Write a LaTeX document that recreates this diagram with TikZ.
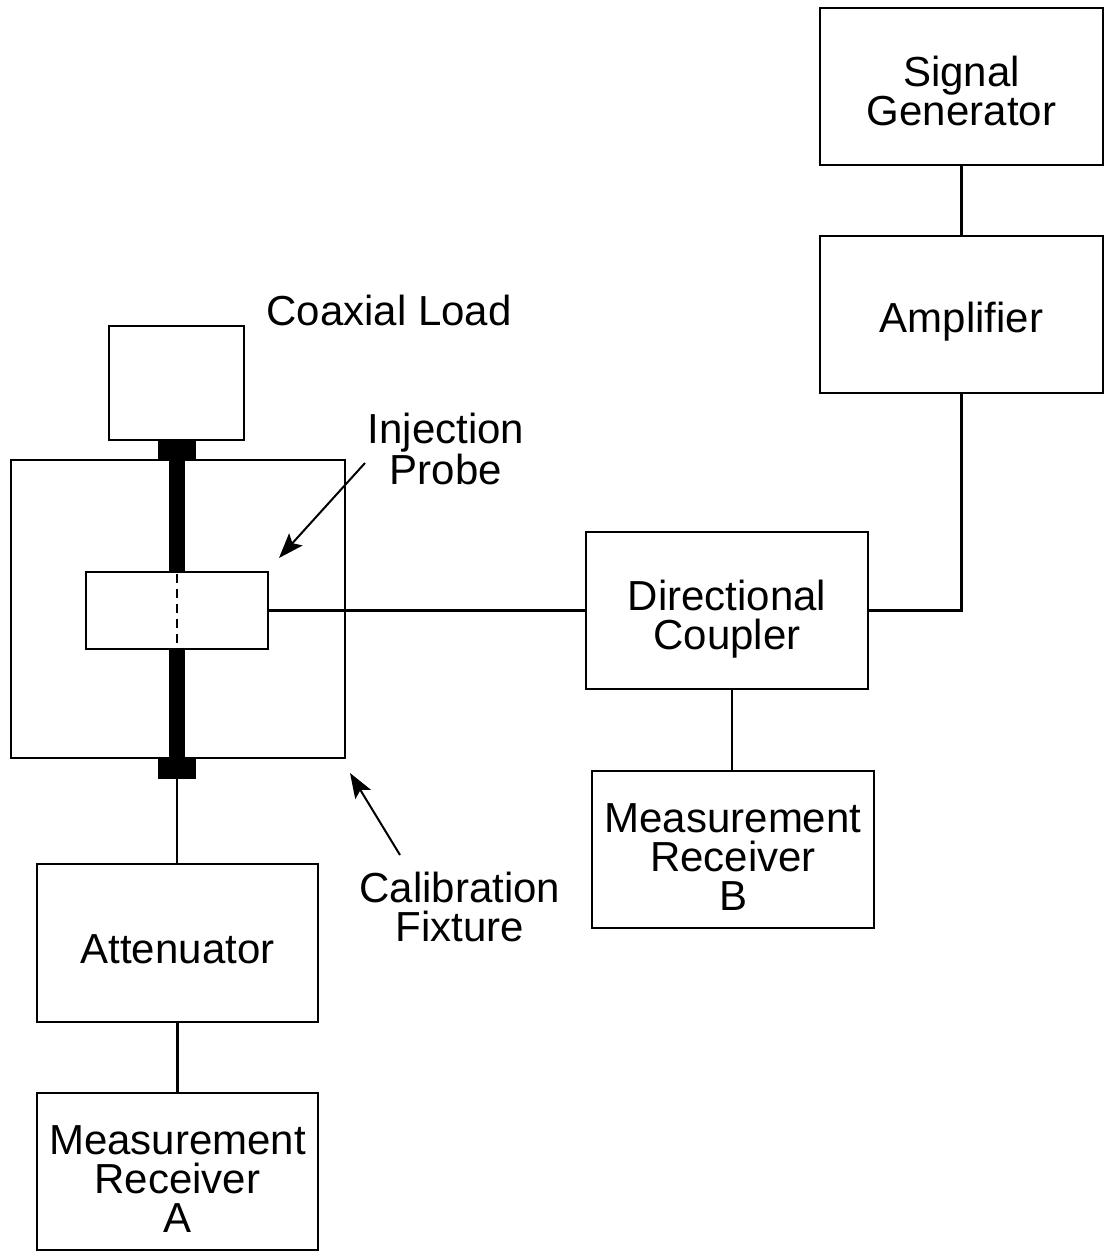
\documentclass[tikz,border=0pt]{standalone}
\usepackage{fontspec}
\setmainfont{Liberation Sans}
\usetikzlibrary{arrows.meta}
\begin{document}
\begin{tikzpicture}[x=1pt,y=-1pt,
  box/.style={draw,line width=1.8pt,rectangle,inner sep=0pt},
  conn/.style={line width=2.8pt},
  blk/.style={fill=black,draw=none,rectangle,inner sep=0pt},
  lbl/.style={inner sep=0pt,align=center,font=\fontsize{42}{39}\selectfont},
  pointer/.style={line width=2pt,-{Stealth[length=25pt,width=18pt,inset=5pt]}}]
\useasboundingbox (0,0) rectangle (1107,1257);
% boxes
\node[box,minimum width=283,minimum height=157] (sg) at (961.5,86.5) {};
\node[lbl] at (961.5,91) {Signal\\Generator};
\node[box,minimum width=283,minimum height=157] (amp) at (961.5,314.5) {};
\node[lbl] at (961.5,322) {Amplifier};
\node[box,minimum width=282,minimum height=157] (dc) at (727,610.5) {};
\node[lbl] at (727,619) {Directional\\Coupler};
\node[box,minimum width=282,minimum height=157] (mrb) at (733,849.5) {};
\node[lbl] at (733,857) {Measurement\\Receiver\\B};
\node[box,minimum width=281,minimum height=158] (att) at (177.5,943) {};
\node[lbl] at (177.5,949) {Attenuator};
\node[box,minimum width=281,minimum height=157] (mra) at (177.5,1171.5) {};
\node[lbl] at (177.5,1179) {Measurement\\Receiver\\A};
\node[box,minimum width=135,minimum height=114] (load) at (176.5,383) {};
\node[box,minimum width=334,minimum height=298] (fix) at (178,609) {};
\node[box,minimum width=182,minimum height=77] (probe) at (177,610.5) {};
% rod and connector blocks
\node[blk,minimum width=38,minimum height=21] (ct) at (177,450) {};
\node[blk,minimum width=38,minimum height=21] (cb) at (177,768) {};
\fill (169,460) rectangle (185,572);
\fill (169,649) rectangle (185,758);
\draw[line width=1.8pt,dash pattern=on 9pt off 6pt] (probe.north) ++(0,3) -- (probe.south);
% connectors
\draw[conn] (probe.east) -- (dc.west);
\draw[conn] (dc.east) -| (amp.south);
\draw[conn] (sg.south) -- (amp.north);
\draw[conn] (mrb.north -| 732,0) -- (dc.south -| 732,0);
\draw[conn] (cb.south) -- (att.north -| cb.south);
\draw[conn] (att.south) -- (mra.north);
% labels
\node[lbl] (tload) at (389,310) {Coaxial Load};
\node[lbl] (tprobe) at (446,449) {Injection\\Probe};
\node[lbl] (tfix) at (460,907) {Calibration\\Fixture};
\coordinate (p1) at (365,463);
\coordinate (p2) at (279,558);
\coordinate (f1) at (400,855);
\coordinate (f2) at (350,773);
\draw[pointer] (p1) -- (p2);
\draw[pointer] (f1) -- (f2);
\end{tikzpicture}
\end{document}
